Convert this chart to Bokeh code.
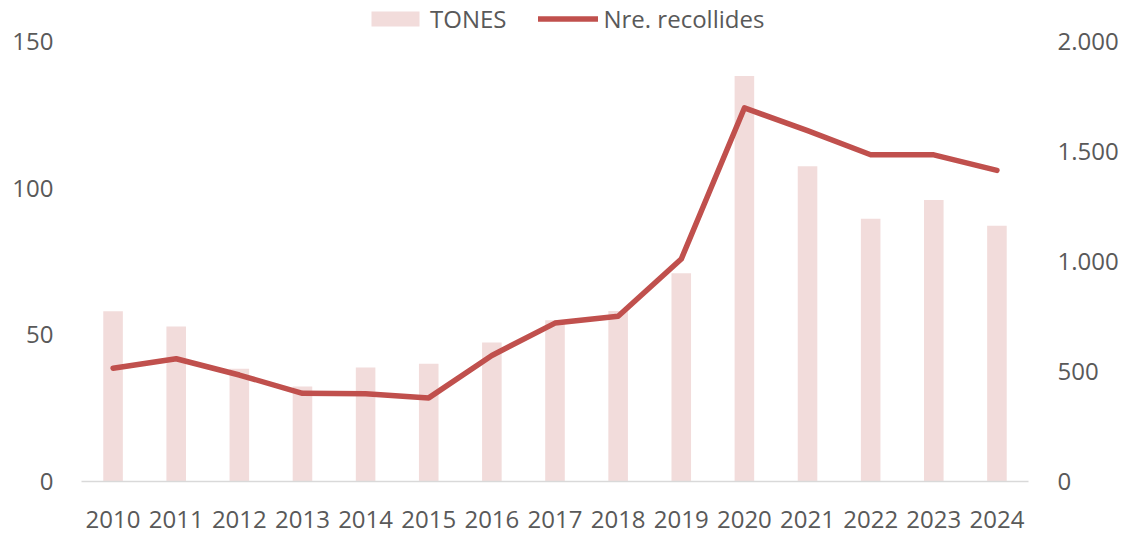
from bokeh.plotting import figure
from bokeh.models import (ColumnDataSource, FactorRange, Range1d, LinearAxis,
                          FixedTicker, Legend, LegendItem)
from bokeh.embed import file_html
from bokeh.resources import INLINE

# ---- data ----
years = ["2010", "2011", "2012", "2013", "2014", "2015", "2016", "2017",
         "2018", "2019", "2020", "2021", "2022", "2023", "2024"]
tones = [58, 52.8, 38.4, 32.4, 38.9, 40.1, 47.4, 55, 58.1, 71, 138.2, 107.5, 89.6, 96, 87.2]
recollides = [515, 558, 484, 401, 399, 380, 573, 720, 751, 1011, 1698, 1595, 1485, 1485, 1414]
left_ticks = [0, 50, 100, 150]
right_ticks = [0, 500, 1000, 1500, 2000]
right_tick_labels = ["0", "500", "1.000", "1.500", "2.000"]
series_names = ["TONES", "Nre. recollides"]

TEXT = "#595959"
FONT = "Open Sans"
FS = "24px"

# The frame extends up to the canvas top (so the legend can sit inside it);
# the axis maxima (150 / 2000) sit 41px below the top of a 481px tall frame.
FRAME_H = 481
AXIS_H = 440
left_max = 150 * FRAME_H / AXIS_H
right_max = 2000 * FRAME_H / AXIS_H

src = ColumnDataSource(data=dict(year=years, tones=tones, rec=recollides))

p = figure(x_range=FactorRange(factors=years), y_range=Range1d(0, left_max),
           width=1127, height=536, output_backend="svg", toolbar_location=None,
           min_border_left=81, min_border_right=99, min_border_top=0,
           min_border_bottom=55, outline_line_color=None)
p.extra_y_ranges = {"right": Range1d(0, right_max)}

bars = p.vbar(x="year", top="tones", width=0.31, source=src,
              fill_color="#f2dcdb", line_color=None)
line = p.line(x="year", y="rec", source=src, y_range_name="right",
              line_color="#c0504d", line_width=5.5, line_join="round", line_cap="round")

p.xgrid.visible = False
p.ygrid.visible = False

# left axis
p.yaxis.ticker = FixedTicker(ticks=left_ticks)
p.yaxis.axis_line_color = None
p.yaxis.major_tick_line_color = None
p.yaxis.major_tick_out = 0
p.yaxis.major_tick_in = 0
p.yaxis.minor_tick_line_color = None
p.yaxis.major_label_standoff = 28
p.yaxis.major_label_text_font = FONT
p.yaxis.major_label_text_font_size = FS
p.yaxis.major_label_text_color = TEXT

# right axis
ra = LinearAxis(y_range_name="right", ticker=FixedTicker(ticks=right_ticks),
                major_label_overrides=dict(zip(right_ticks, right_tick_labels)))
ra.axis_line_color = None
ra.major_tick_line_color = None
ra.major_tick_out = 0
ra.major_tick_in = 0
ra.minor_tick_line_color = None
ra.major_label_standoff = 29
ra.major_label_text_font = FONT
ra.major_label_text_font_size = FS
ra.major_label_text_color = TEXT
p.add_layout(ra, "right")

# bottom axis
p.xaxis.axis_line_color = "#d9d9d9"
p.xaxis.axis_line_width = 1.5
p.xaxis.major_tick_line_color = None
p.xaxis.major_tick_out = 0
p.xaxis.major_tick_in = 0
p.xaxis.minor_tick_line_color = None
p.xaxis.major_label_standoff = 29
p.xaxis.major_label_text_font = FONT
p.xaxis.major_label_text_font_size = FS
p.xaxis.major_label_text_color = TEXT

legend = Legend(items=[LegendItem(label=series_names[0], renderers=[bars]),
                       LegendItem(label=series_names[1], renderers=[line])],
                orientation="horizontal", location=(284, 446),
                glyph_width=60, glyph_height=19, label_standoff=5, spacing=32,
                padding=0, margin=0, border_line_color=None,
                background_fill_alpha=0,
                label_text_font=FONT, label_text_font_size=FS,
                label_text_color=TEXT)
p.add_layout(legend, "center")

open("out.html", "w").write(file_html(p, INLINE))
